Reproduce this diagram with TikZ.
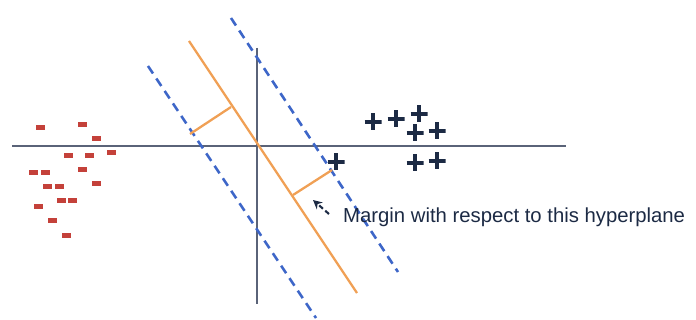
\documentclass[tikz,border=0pt]{standalone}
\usepackage{fontspec}
\setmainfont{Liberation Sans}
\usetikzlibrary{arrows.meta}
\definecolor{axiscol}{HTML}{5A6378}
\definecolor{orangecol}{HTML}{F0A055}
\definecolor{bluecol}{HTML}{3D66C8}
\definecolor{navy}{HTML}{1C2A44}
\definecolor{redcol}{HTML}{C4413A}
\tikzset{
  axisline/.style={draw=axiscol, line width=1.1pt},
  hyper/.style={draw=orangecol, line width=2.3pt},
  marginline/.style={draw=bluecol, line width=2.6pt, dash pattern=on 9pt off 6pt},
  marginseg/.style={draw=orangecol, line width=2.3pt},
  plusmark/.style={draw=none, minimum width=17pt, minimum height=17pt, inner sep=0pt,
    path picture={\draw[navy, line width=3.8pt] (path picture bounding box.west) -- (path picture bounding box.east);
                  \draw[navy, line width=3.8pt] (path picture bounding box.north) -- (path picture bounding box.south);}},
  minusmark/.style={fill=redcol, minimum width=9pt, minimum height=5pt, inner sep=0pt},
  label/.style={font=\fontsize{20.3pt}{24pt}\selectfont, text=navy, inner sep=0pt},
  pointer/.style={draw=navy, line width=2.1pt, dash pattern=on 5pt off 3pt, -{Stealth[length=9pt,width=9pt]}}
}
\begin{document}
\begin{tikzpicture}[x=1pt,y=-1pt]
\useasboundingbox (0,0) rectangle (696,320);
% axes
\coordinate (xl) at (12,146);
\coordinate (xr) at (566,146);
\coordinate (yt) at (257,48);
\coordinate (yb) at (257,304);
\draw[axisline] (xl) -- (xr);
\draw[axisline] (yt) -- (yb);
% hyperplane and margins
\coordinate (ht) at (189,41);
\coordinate (hb) at (357,293);
\draw[hyper] (ht) -- (hb);
\coordinate (lt) at (148,66);
\coordinate (lb) at (316,318);
\draw[marginline] (lt) -- (lb);
\coordinate (rt) at (231,18);
\coordinate (rb) at (398,272);
\draw[marginline] (rt) -- (rb);
\coordinate (m1a) at (190,134);
\coordinate (m1b) at (231,107);
\draw[marginseg] (m1a) -- (m1b);
\coordinate (m2a) at (293,195);
\coordinate (m2b) at (332,170);
\draw[marginseg] (m2a) -- (m2b);
% plus points
\foreach \i/\p in {1/{(373,122)},2/{(396,119)},3/{(419,114)},4/{(415,133)},5/{(437,131)},6/{(336,162)},7/{(415,163)},8/{(437,161)}}
  \node[plusmark] (p\i) at \p {};
% minus points
\foreach \i/\p in {1/{(40,128)},2/{(82,125)},3/{(96,139)},4/{(68,156)},5/{(89,156)},6/{(111,153)},7/{(33,173)},8/{(45,173)},9/{(82,170)},10/{(47,187)},11/{(59,187)},12/{(96,184)},13/{(61,201)},14/{(72,201)},15/{(38,207)},16/{(52,221)},17/{(66,236)}}
  \node[minusmark] (n\i) at \p {};
% label and pointer
\node[label, anchor=base west] (lbl) at (343,223) {Margin with respect to this hyperplane};
\coordinate (arrS) at (329,214);
\coordinate (arrE) at (313,200);
\draw[pointer] (arrS) -- (arrE);
\end{tikzpicture}
\end{document}
